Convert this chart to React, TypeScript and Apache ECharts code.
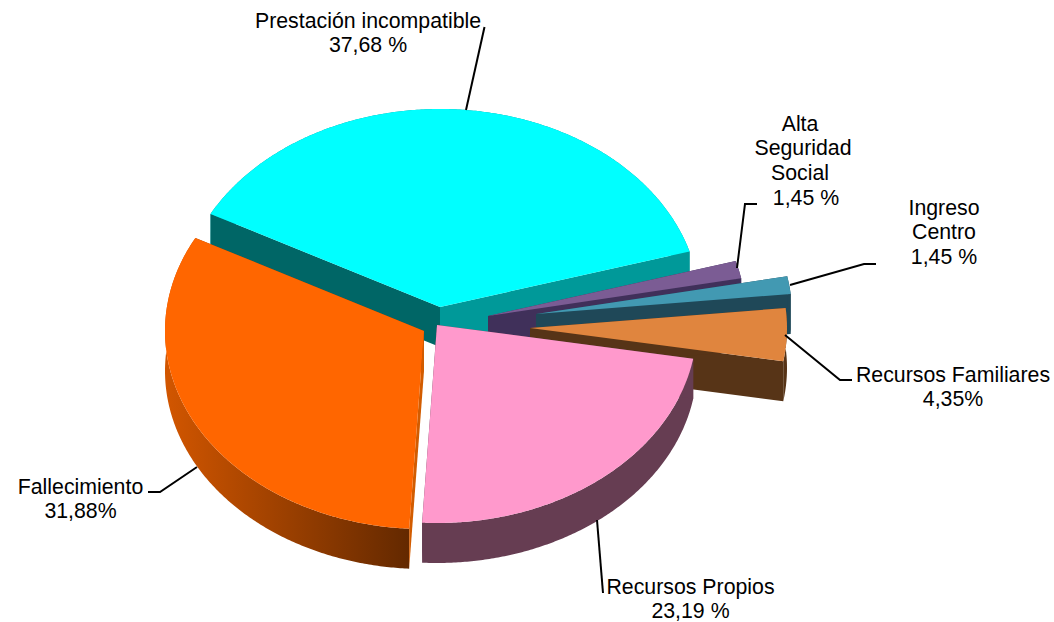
import React, { useEffect, useRef } from "react";
import * as echarts from "echarts";

// ---- data ----
const categories = [
  "Prestación incompatible",
  "Fallecimiento",
  "Recursos Propios",
  "Recursos Familiares",
  "Ingreso\nCentro",
  "Alta \nSeguridad\nSocial ",
];
const values = [37.68, 31.88, 23.19, 4.35, 1.45, 1.45];
const percentTexts = ["37,68 %", "31,88%", "23,19 %", "4,35%", "1,45 %", " 1,45 %"];

// ---- styling / layout ----
const START_ANGLE = 16.3; // degrees, counter-clockwise from +x on the ellipse
const DEPTH = 40;
const apexX = [440, 424, 437, 530, 536, 488];
const apexY = [307, 331, 325, 328, 314, 316];
const radiusX = [260, 259, 260, 257, 256, 258];
const radiusY = [198, 198, 198, 196, 196, 196];
const topColors = ["#00FFFF", "#FF6600", "#FF99CC", "#E0853E", "#4299B2", "#7B5C94"];
const outerColors = ["#009999", "#994000", "#663D52", "#573417", "#1F4858", "#40305A"];
const startCutColors = ["#009999", "#994000", "#663D52", "#573417", "#1F4858", "#40305A"];
const endCutColors = ["#006666", "#D25C00", "#663D52", "#573417", "#1F4858", "#40305A"];
// slices are painted back to front
const paintOrder = [0, 5, 4, 3, 2, 1];

const labelX = [368, 80.5, 690.5, 953, 944, 803];
const labelBaseline = [27, 493, 593, 381, 214, 130];
const leaders: number[][][] = [
  [[466, 110], [484.5, 27]],
  [[197, 467], [160, 492], [148, 492]],
  [[597, 520], [603, 593]],
  [[785, 335], [840, 380], [852, 380]],
  [[790, 285], [864, 264], [876, 264]],
  [[737, 268], [745, 204], [757, 204]],
];

const FONT_SIZE = 21.3;
const LINE_HEIGHT = 24.7;
const FONT_FAMILY = '"Liberation Sans", Arial, sans-serif';

const total = values.reduce((a, b) => a + b, 0);
const spans = (() => {
  let a = START_ANGLE;
  return values.map((v) => {
    const s = a;
    a += (v / total) * 360;
    return [s, a];
  });
})();

function pointAt(i: number, deg: number, dy = 0): number[] {
  const r = (deg * Math.PI) / 180;
  return [apexX[i] + radiusX[i] * Math.cos(r), apexY[i] - radiusY[i] * Math.sin(r) + dy];
}

function arc(i: number, dy = 0): number[][] {
  const [s, e] = spans[i];
  const n = Math.max(4, Math.ceil(e - s) * 2);
  const pts: number[][] = [];
  for (let k = 0; k <= n; k++) pts.push(pointAt(i, s + ((e - s) * k) / n, dy));
  return pts;
}

function renderSlice(params: any) {
  const i = paintOrder[params.dataIndex];
  const top = arc(i);
  const low = arc(i, DEPTH).reverse();
  const apex = [apexX[i], apexY[i]];
  const apexLow = [apexX[i], apexY[i] + DEPTH];
  const first = top[0];
  const last = top[top.length - 1];
  const outerFill =
    i === 1
      ? new echarts.graphic.LinearGradient(
          165, 0, 408, 0,
          [
            { offset: 0, color: "#D25600" },
            { offset: 1, color: "#642900" },
          ],
          true
        )
      : outerColors[i];
  return {
    type: "group",
    children: [
      { type: "polygon", shape: { points: [...top, ...low] }, style: { fill: outerFill } },
      {
        type: "polygon",
        shape: { points: [apex, first, [first[0], first[1] + DEPTH], apexLow] },
        style: { fill: startCutColors[i] },
      },
      {
        type: "polygon",
        shape: { points: [apex, last, [last[0], last[1] + DEPTH], apexLow] },
        style: { fill: endCutColors[i] },
      },
      { type: "polygon", shape: { points: [apex, ...top] }, style: { fill: topColors[i] } },
    ],
  };
}

export default function App() {
  const ref = useRef<HTMLDivElement>(null);
  useEffect(() => {
    const chart = echarts.init(ref.current!, null, { renderer: "svg" });
    const texts = categories.map((c, i) => ({
      type: "text",
      z: 20,
      x: labelX[i],
      y: labelBaseline[i] - 18.7,
      style: {
        text: `${c}\n${percentTexts[i]}`,
        fill: "#000000",
        font: `${FONT_SIZE}px ${FONT_FAMILY}`,
        lineHeight: LINE_HEIGHT,
        align: "center",
        verticalAlign: "top",
      },
    }));
    const lines = leaders.map((points) => ({
      type: "polyline",
      z: 10,
      shape: { points },
      style: { stroke: "#000000", lineWidth: 2, fill: "none" },
    }));
    chart.setOption({
      animation: false,
      backgroundColor: "#ffffff",
      series: [
        {
          type: "custom",
          coordinateSystem: "none",
          silent: true,
          clip: false,
          data: paintOrder.map((i) => ({ name: categories[i], value: values[i] })),
          renderItem: renderSlice,
        },
      ],
      graphic: { elements: [...lines, ...texts] },
    });
    return () => chart.dispose();
  }, []);
  return <div ref={ref} style={{ position: "fixed", left: 0, top: 0, width: 1054, height: 622 }} />;
}
